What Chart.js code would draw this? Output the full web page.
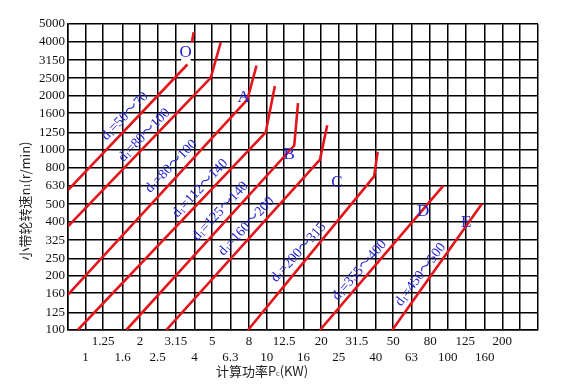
<!DOCTYPE html>
<html>
<head>
<meta charset="utf-8">
<script src="https://cdn.jsdelivr.net/npm/chart.js@4.4.0/dist/chart.umd.min.js"></script>
<style>
  html, body { margin: 0; padding: 0; background: #fff; }
  #wrap { width: 564px; height: 385px; }
</style>
</head>
<body>
<div id="wrap"><canvas id="c" width="564" height="385"></canvas></div>
<script>
// 计算功率 Pc (kW) 刻度，R10 系列
const xTicks = [1, 1.25, 1.6, 2, 2.5, 3.15, 4, 5, 6.3, 8, 10, 12.5, 16, 20, 25, 31.5, 40, 50, 63, 80, 100, 125, 160, 200];
const xLabels = ['1', '1.25', '1.6', '2', '2.5', '3.15', '4', '5', '6.3', '8', '10', '12.5', '16', '20', '25', '31.5', '40', '50', '63', '80', '100', '125', '160', '200'];
const xExtra = [0.8, 250, 315];   // 无标注的网格线（含两端）

// 小带轮转速 n1 (r/min)
const yTicks = [100, 125, 160, 200, 250, 315, 400, 500, 630, 800, 1000, 1250, 1600, 2000, 2500, 3150, 4000, 5000];
const yLabels = ['100', '125', '160', '200', '250', '325', '400', '500', '630', '800', '1000', '1250', '1600', '2000', '2500', '3150', '4000', '5000'];

// 各带型分界线 [Pc, n1]
const lineZ1 = [[0.8, 598], [3.65, 2980]];
const lineZ1top = [[3.87, 3960], [3.95, 4500]];
const lineZ2 = [[0.8, 376], [4.91, 2510], [5.58, 3960]];
const lineA1 = [[0.8, 157], [7.82, 1900], [8.79, 2940]];
const lineA2 = [[0.906, 100], [9.88, 1250], [11.1, 2260]];
const lineB1 = [[1.68, 100], [14.2, 1057], [14.9, 1820]];
const lineB2 = [[2.79, 100], [19.7, 883], [21.6, 1370]];
const lineC = [[7.89, 100], [39.2, 713], [41.0, 975]];
const lineD = [[19.7, 100], [94.6, 633]];
const lineE = [[49.4, 100], [154.5, 503]];

// 带型字母
const letters = [['O', 3.57, 3475], ['A', 7.47, 1955], ['B', 13.3, 942], ['C', 24.4, 658], ['D', 73.1, 454], ['E', 126.5, 394]];
// 小带轮直径范围
const dLabels = [
  ['50～70', 1.68, 1510, -46],
  ['80～100', 2.15, 1186, -46],
  ['80～100', 3.03, 797, -46],
  ['112～140', 4.38, 601, -47],
  ['125～140', 5.65, 449, -47],
  ['160～200', 7.87, 370, -47],
  ['200～315', 15.3, 265, -48],
  ['355～400', 33.2, 211, -49],
  ['450～500', 72.2, 200, -53]
];

const serif = '"Liberation Serif", "DejaVu Serif", "Noto Sans CJK SC", serif';
const cjk = '"Noto Sans CJK SC", "DejaVu Sans", sans-serif';
const blue = '#2323d2';

const mk = (pts) => ({
  data: pts.map(p => ({ x: p[0], y: p[1] })),
  borderColor: '#e3151b',
  borderWidth: 2.6,
  pointRadius: 0,
  showLine: true,
  fill: false,
  tension: 0
});

// 分段写字（支持下标）
function drawParts(ctx, parts, cx, cy) {
  let w = 0;
  parts.forEach(p => { ctx.font = p.font; w += ctx.measureText(p.t).width; });
  let x = cx - w / 2;
  parts.forEach(p => {
    ctx.font = p.font;
    ctx.fillText(p.t, x, cy + (p.dy || 0));
    x += ctx.measureText(p.t).width;
  });
}

const decor = {
  id: 'decor',
  beforeDatasetsDraw(chart) {
    const { ctx, scales: { x, y } } = chart;
    const px = x.getPixelForValue(letters[0][1]);
    const py = y.getPixelForValue(letters[0][2]);
    ctx.save();
    ctx.fillStyle = '#fff';
    ctx.fillRect(px - 4.5, py - 9, 9.5, 18);
    ctx.restore();
  },
  afterDatasetsDraw(chart) {
    const { ctx, scales: { x, y } } = chart;
    ctx.save();
    ctx.fillStyle = blue;
    ctx.textBaseline = 'middle';
    ctx.textAlign = 'left';
    letters.forEach(l => {
      drawParts(ctx, [{ t: l[0], font: '17px ' + serif }], x.getPixelForValue(l[1]), y.getPixelForValue(l[2]));
    });
    dLabels.forEach(d => {
      ctx.save();
      ctx.translate(x.getPixelForValue(d[1]), y.getPixelForValue(d[2]));
      ctx.rotate(d[3] * Math.PI / 180);
      drawParts(ctx, [
        { t: 'd', font: '14px ' + serif },
        { t: '1', font: '8px ' + serif, dy: 3 },
        { t: '=' + d[0], font: '14px ' + serif }
      ], 0, -2);
      ctx.restore();
    });
    ctx.restore();

    // 坐标轴标题
    ctx.save();
    ctx.fillStyle = '#222';
    ctx.textBaseline = 'middle';
    ctx.textAlign = 'left';
    drawParts(ctx, [
      { t: '计算功率P', font: '13px ' + cjk },
      { t: 'c', font: '8px ' + serif, dy: 3 },
      { t: '(KW)', font: '13px ' + cjk }
    ], 262, 371);
    ctx.translate(25, 201);
    ctx.rotate(-Math.PI / 2);
    drawParts(ctx, [
      { t: '小带轮转速n', font: '13px ' + cjk },
      { t: '1', font: '8px ' + serif, dy: 3 },
      { t: '(r/min)', font: '13px ' + cjk }
    ], 0, 0);
    ctx.restore();
  }
};

new Chart(document.getElementById('c'), {
  type: 'scatter',
  data: {
    datasets: [lineZ1, lineZ1top, lineZ2, lineA1, lineA2, lineB1, lineB2, lineC, lineD, lineE].map(mk)
  },
  options: {
    responsive: false,
    animation: false,
    layout: { padding: { top: 24, right: 26, left: 0, bottom: 0 } },
    plugins: { legend: { display: false }, tooltip: { enabled: false } },
    scales: {
      x: {
        type: 'logarithmic',
        min: xExtra[0],
        max: xExtra[xExtra.length - 1],
        afterBuildTicks: s => {
          s.ticks = [...xExtra, ...xTicks].sort((a, b) => a - b).map(v => ({ value: v }));
        },
        afterFit: s => { s.height = 55; },
        grid: { color: '#000', lineWidth: 1.5, drawTicks: false },
        border: { color: '#000', width: 1.5 },
        ticks: {
          autoSkip: false,
          maxRotation: 0,
          padding: 3,
          color: '#111',
          font: { family: serif, size: 13, lineHeight: 1.25 },
          callback: (v) => {
            const k = xTicks.indexOf(v);
            if (k < 0) return '';
            return k % 2 ? [xLabels[k], ''] : ['', xLabels[k]];
          }
        }
      },
      y: {
        type: 'logarithmic',
        min: yTicks[0],
        max: yTicks[yTicks.length - 1],
        afterBuildTicks: s => {
          s.ticks = yTicks.map(v => ({ value: v }));
        },
        afterFit: s => { s.width = 68; },
        grid: { color: '#000', lineWidth: 1.5, drawTicks: false },
        border: { color: '#000', width: 1.5 },
        ticks: {
          autoSkip: false,
          padding: 3,
          color: '#111',
          font: { family: serif, size: 13 },
          callback: (v) => {
            const k = yTicks.indexOf(v);
            return k < 0 ? '' : yLabels[k];
          }
        }
      }
    }
  },
  plugins: [decor]
});
</script>
</body>
</html>
